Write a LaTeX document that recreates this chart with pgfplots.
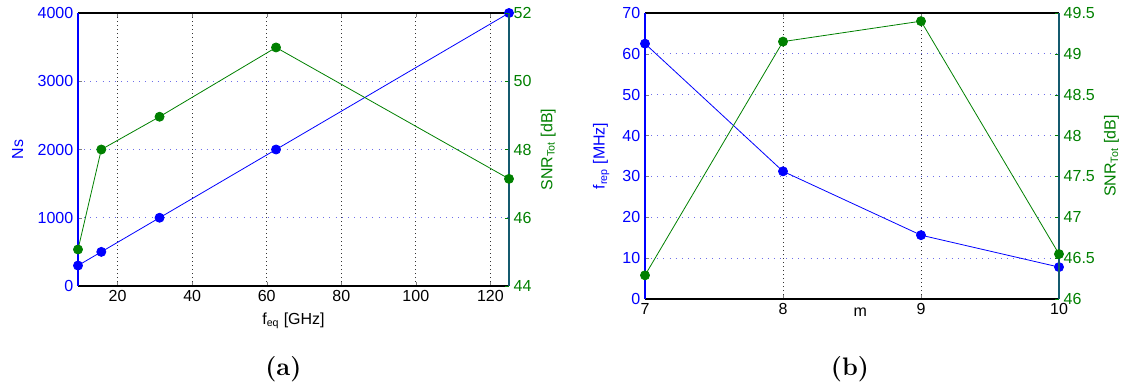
\documentclass[border=0pt]{standalone}
\usepackage{fontspec}
\usepackage{pgfplots}
\pgfplotsset{compat=1.18}
\newfontfamily\helv{Liberation Sans}
\definecolor{mblue}{RGB}{0,0,255}
\definecolor{mgreen}{RGB}{0,128,0}
\definecolor{gridblue}{RGB}{110,110,235}
\definecolor{spine}{RGB}{20,90,110}

\pgfplotsset{
  base/.style={
    scale only axis, clip=false, anchor=south west,
    tick align=inside, major tick length=3pt,
    font=\helv\fontsize{12}{14}\selectfont,
    /pgf/number format/assume math mode=true,
    /pgf/number format/1000 sep={},
    axis line style={line width=0.8pt},
  },
  leftax/.style={base,
    axis x line*=box, axis y line*=left,
    y axis line style={mblue},
    yticklabel style={mblue},
    ylabel style={mblue},
    xmajorgrids, ymajorgrids,
    major x grid style={black!80, dash pattern=on 0.6pt off 2.4pt, line width=0.5pt},
    major y grid style={gridblue, dash pattern=on 0.6pt off 4pt, line width=0.6pt},
  },
  rightax/.style={base,
    axis x line=none, axis y line*=right,
    y axis line style={spine},
    yticklabel style={mgreen},
    ylabel style={mgreen},
    tick style={mgreen},
  },
  bser/.style={mblue, line width=0.6pt, mark=*, mark size=3.4pt, mark options={fill=mblue, draw=mblue}},
  gser/.style={mgreen, line width=0.6pt, mark=*, mark size=3.4pt, mark options={fill=mgreen, draw=mgreen}},
}

\begin{document}
\begin{tikzpicture}[x=1pt,y=1pt]
\path[use as bounding box] (0,0) rectangle (846,292.5);

% (a) samples versus equivalent sampling frequency
\begin{axis}[leftax, at={(58.5pt,78pt)}, width=323.25pt, height=204.75pt,
  xmin=9.375, xmax=125, ymin=0, ymax=4000,
  xtick={20,40,...,120}, ytick={0,1000,...,4000},
  xlabel={f\textsubscript{eq} [GHz]}, ylabel={Ns},
  xlabel style={yshift=-1pt}, ylabel style={yshift=4pt}]
  \addplot[bser] coordinates {(9.375,300) (15.625,500) (31.25,1000) (62.5,2000) (125,4000)};
\end{axis}
\begin{axis}[rightax, at={(58.5pt,78pt)}, width=323.25pt, height=204.75pt,
  xmin=9.375, xmax=125, ymin=44, ymax=52,
  ytick={44,46,...,52},
  ylabel={SNR\textsubscript{Tot} [dB]}]
  \addplot[gser] coordinates {(9.375,45.07) (15.625,48.0) (31.25,48.96) (62.5,50.99) (125,47.14)};
\end{axis}
\node[font=\fontsize{19}{22}\selectfont] at (212.5,15.75) {\textbf{(a)}};

% (b) repetition frequency versus m
\begin{axis}[leftax, at={(483.75pt,68.25pt)}, width=310.5pt, height=214.5pt,
  xmin=7, xmax=10, ymin=0, ymax=70,
  xtick={7,8,9,10}, ytick={0,10,...,70},
  xlabel={m}, ylabel={f\textsubscript{rep} [MHz]},
  xlabel style={at={(rel axis cs:0.52,0)}, anchor=north, yshift=-3.5pt},
  ylabel style={yshift=3pt}]
  \addplot[bser] coordinates {(7,62.5) (8,31.25) (9,15.625) (10,7.8125)};
\end{axis}
\begin{axis}[rightax, at={(483.75pt,68.25pt)}, width=310.5pt, height=214.5pt,
  xmin=7, xmax=10, ymin=46, ymax=49.5,
  ytick={46,46.5,...,49.5},
  yticklabel style={/pgf/number format/fixed, /pgf/number format/precision=1},
  ylabel={SNR\textsubscript{Tot} [dB]}]
  \addplot[gser] coordinates {(7,46.29) (8,49.15) (9,49.40) (10,46.55)};
\end{axis}
\node[font=\fontsize{19}{22}\selectfont] at (637.5,15.75) {\textbf{(b)}};
\end{tikzpicture}
\end{document}
